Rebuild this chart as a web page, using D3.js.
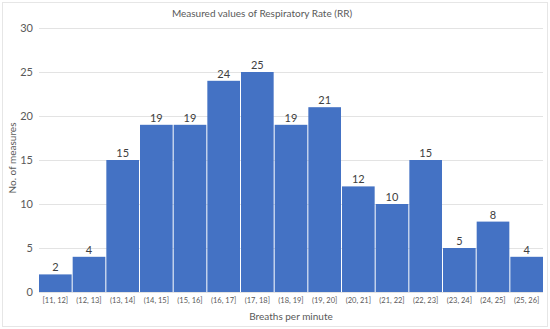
<!DOCTYPE html>
<html>
<head>
<meta charset="utf-8">
<script src="https://cdn.jsdelivr.net/npm/d3@7"></script>
<style>
  body { margin: 0; background: #fff; }
  text { font-family: Lato, "Open Sans", sans-serif; fill: #595959; }
</style>
</head>
<body>
<div id="chart"></div>
<script>
// data
var categories = ['[11, 12]', '(12, 13]', '(13, 14]', '(14, 15]', '(15, 16]', '(16, 17]', '(17, 18]',
                  '(18, 19]', '(19, 20]', '(20, 21]', '(21, 22]', '(22, 23]', '(23, 24]', '(24, 25]', '(25, 26]'];
var counts = [2, 4, 15, 19, 19, 24, 25, 19, 21, 12, 10, 15, 5, 8, 4];
var yTicks = [0, 5, 10, 15, 20, 25, 30];

var width = 550, height = 329;
var margin = {top: 28, right: 7, bottom: 37, left: 39};

var svg = d3.select('#chart').append('svg')
    .attr('width', width)
    .attr('height', height);

// outer chart border
svg.append('rect')
    .attr('x', 2.5).attr('y', 2.5)
    .attr('width', width - 5).attr('height', height - 5)
    .style('fill', 'none')
    .style('stroke', '#e6e6e6');

var x = d3.scaleBand()
    .domain(categories)
    .range([margin.left, width - margin.right])
    .paddingInner(0.03)
    .paddingOuter(0);

var y = d3.scaleLinear()
    .domain([0, 30])
    .range([height - margin.bottom, margin.top]);

// gridlines
svg.append('g')
    .selectAll('line')
    .data(yTicks)
    .enter().append('line')
    .attr('x1', margin.left)
    .attr('x2', width - margin.right)
    .attr('y1', function(d) { return Math.round(y(d)) + 0.5; })
    .attr('y2', function(d) { return Math.round(y(d)) + 0.5; })
    .style('stroke', '#e3e3e3')
    .style('stroke-width', 1);

// y axis labels
var yAxis = svg.append('g')
    .attr('transform', 'translate(' + margin.left + ',0)')
    .call(d3.axisLeft(y).tickValues(yTicks).tickSize(0).tickPadding(6));
yAxis.select('.domain').remove();
yAxis.selectAll('text')
    .style('font-size', '11px')
    .style('fill', '#595959');

// bars
svg.append('g')
    .selectAll('rect')
    .data(counts)
    .enter().append('rect')
    .attr('x', function(d, i) { return x(categories[i]); })
    .attr('y', function(d) { return y(d); })
    .attr('width', x.bandwidth())
    .attr('height', function(d) { return y(0) - y(d); })
    .style('fill', '#4472c4');

// value labels
svg.append('g')
    .selectAll('text')
    .data(counts)
    .enter().append('text')
    .attr('x', function(d, i) { return x(categories[i]) + x.bandwidth() / 2; })
    .attr('y', function(d) { return y(d) - 3; })
    .attr('text-anchor', 'middle')
    .style('font-size', '11px')
    .style('fill', '#404040')
    .text(function(d) { return d; });

// x axis labels
var xAxis = svg.append('g')
    .attr('transform', 'translate(0,' + y(0) + ')')
    .call(d3.axisBottom(x).tickSize(0).tickPadding(6));
xAxis.select('.domain').remove();
xAxis.selectAll('text')
    .style('font-size', '7.5px')
    .style('fill', '#595959');

// title
svg.append('text')
    .attr('x', 262)
    .attr('y', 17)
    .attr('text-anchor', 'middle')
    .style('font-size', '10px')
    .text('Measured values of Respiratory Rate (RR)');

// axis titles
svg.append('text')
    .attr('x', 291)
    .attr('y', 320)
    .attr('text-anchor', 'middle')
    .style('font-size', '10px')
    .text('Breaths per minute');

svg.append('text')
    .attr('transform', 'translate(16,158) rotate(-90)')
    .attr('text-anchor', 'middle')
    .style('font-size', '10px')
    .text('No. of measures');
</script>
</body>
</html>
